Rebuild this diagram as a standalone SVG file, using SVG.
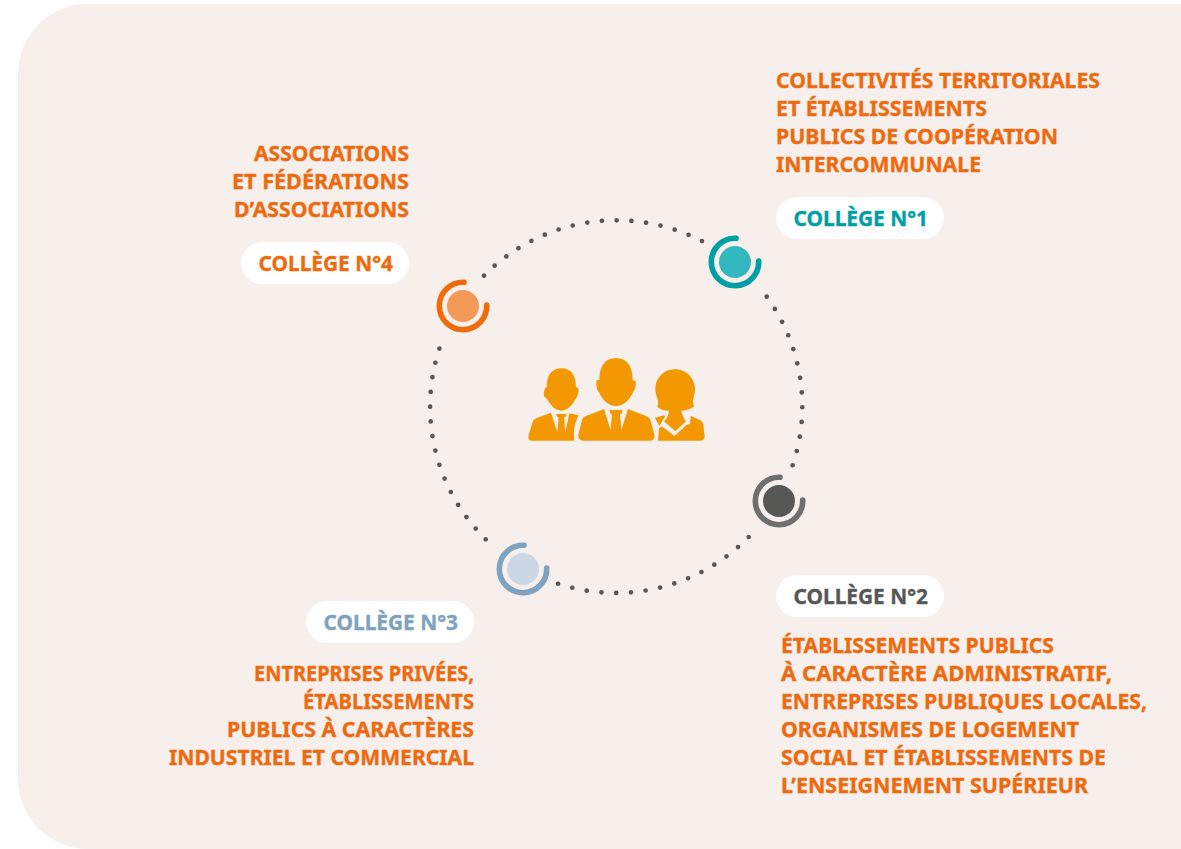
<svg xmlns="http://www.w3.org/2000/svg" width="1181" height="849" viewBox="0 0 1181 849">
<style>
.t{font-family:"Noto Sans","Liberation Sans",sans-serif;font-weight:700;font-size:21px;fill:#ee6a0e;stroke:#ee6a0e;stroke-width:.35}
.p{font-family:"Noto Sans","Liberation Sans",sans-serif;font-weight:700;font-size:21px;stroke-width:.35}
.pill{fill:#fff}
.ring{fill:none;stroke-width:5.6;stroke-linecap:round}
.dots{fill:none;stroke:#575756;stroke-width:4.700;stroke-linecap:round;stroke-dasharray:0 14.75}
.i{fill:#f39800}
</style>
<rect width="1181" height="849" fill="#fff"/>
<path id="background" d="M1181 4H88A70 70 0 0 0 18 74V779A70 70 0 0 0 88 849H1181Z" fill="#f6efec"/>
<g id="connectors">
<path class="dots" d="M766.700 296.700A186 186 0 0 1 791 470"/>
<path class="dots" d="M748.700 537A186 186 0 0 1 553 582"/>
<path class="dots" d="M485.700 539.300A186 186 0 0 1 441 344"/>
<path class="dots" d="M484 275.700A186 186 0 0 1 706.400 243.500"/>
</g>
<g id="node1"><path class="ring" d="M736 238.300A23.700 23.700 0 1 0 758.700 261" stroke="#009ea5"/><circle cx="735" cy="262" r="16" fill="#33b8c0"/></g>
<g id="node2"><path class="ring" d="M780 477.300A23.700 23.700 0 1 0 802.700 500" stroke="#706f6f"/><circle cx="779" cy="501" r="16" fill="#575756"/></g>
<g id="node3"><path class="ring" d="M524 545.300A23.700 23.700 0 1 0 546.700 568" stroke="#7ea2bf"/><circle cx="523" cy="569" r="16" fill="#cbd7e4"/></g>
<g id="node4"><path class="ring" d="M464 282.300A23.700 23.700 0 1 0 486.700 305" stroke="#f26b0a"/><circle cx="463" cy="306" r="16" fill="#f49a58"/></g>
<g id="people" class="i" transform="translate(500 340) scale(.33333)">
<path d="M184 85C212 85 228 105 228 140L236 146C236 160 232 172 226 178C216 198 200 212 184 212C168 212 152 198 142 178L133 170C130 160 132 146 140 140C140 105 156 85 184 85Z"/>
<path d="M222 302H95C87 302 83 295 86 285L98 245C100 240 104 237 110 234L153 218L172 276L176 232H172L168 222H200L196 232H192L196 276L208 220L236 226C228 240 222 260 222 276Z"/>
<path d="M348 54C382 54 398 80 398 120L407 124C408 138 406 150 398 158C388 182 368 198 348 198C328 198 308 182 298 158C290 150 288 138 290 120L298 120C298 80 314 54 348 54Z"/>
<path d="M450 302H250C238 302 232 292 236 280L246 240C248 233 252 230 260 227L312 207L332 270L336 222H332L328 210H368L364 222H360L364 270L384 207L440 229C447 232 450 236 452 242L463 284C465 294 460 302 450 302Z"/>
<path d="M525 88C558 88 585 114 585 148C585 166 574 180 582 200C572 207 556 212 544 212C546 226 552 238 558 244L526 274L492 244C500 238 506 226 507 212C494 212 480 208 472 201C480 184 466 168 466 148C466 114 492 88 525 88Z"/>
<path d="M474 302L477 264L487 260L524 288L560 254L570 252L572 228L600 240C606 243 609 248 610 254L614 290C614 298 608 302 600 302ZM465 234L490 226L496 228L478 258Z"/>
</g>
<g id="label1">
<text class="t" x="776" y="88" textLength="324" lengthAdjust="spacingAndGlyphs">COLLECTIVITÉS TERRITORIALES</text>
<text class="t" x="776" y="116" textLength="211" lengthAdjust="spacingAndGlyphs">ET ÉTABLISSEMENTS</text>
<text class="t" x="776" y="144" textLength="282" lengthAdjust="spacingAndGlyphs">PUBLICS DE COOPÉRATION</text>
<text class="t" x="776" y="172" textLength="205" lengthAdjust="spacingAndGlyphs">INTERCOMMUNALE</text>
<rect class="pill" x="776" y="197" width="168" height="42" rx="21"/>
<text class="p" x="793.500" y="225.500" textLength="134.500" lengthAdjust="spacingAndGlyphs" fill="#009ea5" stroke="#009ea5">COLLÈGE N°1</text>
</g>
<g id="label2">
<rect class="pill" x="776" y="575" width="168" height="42" rx="21"/>
<text class="p" x="793.500" y="603.500" textLength="134.500" lengthAdjust="spacingAndGlyphs" fill="#575756" stroke="#575756">COLLÈGE N°2</text>
<text class="t" x="781" y="653" textLength="273" lengthAdjust="spacingAndGlyphs">ÉTABLISSEMENTS PUBLICS</text>
<text class="t" x="781" y="681" textLength="331" lengthAdjust="spacingAndGlyphs">À CARACTÈRE ADMINISTRATIF,</text>
<text class="t" x="781" y="709" textLength="366" lengthAdjust="spacingAndGlyphs">ENTREPRISES PUBLIQUES LOCALES,</text>
<text class="t" x="781" y="737" textLength="298" lengthAdjust="spacingAndGlyphs">ORGANISMES DE LOGEMENT</text>
<text class="t" x="781" y="765" textLength="325" lengthAdjust="spacingAndGlyphs">SOCIAL ET ÉTABLISSEMENTS DE</text>
<text class="t" x="781" y="793" textLength="307" lengthAdjust="spacingAndGlyphs">L’ENSEIGNEMENT SUPÉRIEUR</text>
</g>
<g id="label3">
<rect class="pill" x="306" y="601" width="168" height="42" rx="21"/>
<text class="p" x="323.500" y="629.500" textLength="134.500" lengthAdjust="spacingAndGlyphs" fill="#7ea2bf" stroke="#7ea2bf">COLLÈGE N°3</text>
<text class="t" x="254" y="681" textLength="220" lengthAdjust="spacingAndGlyphs">ENTREPRISES PRIVÉES,</text>
<text class="t" x="303" y="709" textLength="171" lengthAdjust="spacingAndGlyphs">ÉTABLISSEMENTS</text>
<text class="t" x="227" y="737" textLength="247" lengthAdjust="spacingAndGlyphs">PUBLICS À CARACTÈRES</text>
<text class="t" x="169" y="765" textLength="305" lengthAdjust="spacingAndGlyphs">INDUSTRIEL ET COMMERCIAL</text>
</g>
<g id="label4">
<text class="t" x="254" y="161" textLength="155" lengthAdjust="spacingAndGlyphs">ASSOCIATIONS</text>
<text class="t" x="232" y="189" textLength="177" lengthAdjust="spacingAndGlyphs">ET FÉDÉRATIONS</text>
<text class="t" x="234" y="217" textLength="175" lengthAdjust="spacingAndGlyphs">D’ASSOCIATIONS</text>
<rect class="pill" x="241" y="242" width="168" height="42" rx="21"/>
<text class="p" x="258.500" y="270.500" textLength="134.500" lengthAdjust="spacingAndGlyphs" fill="#ee6a0e" stroke="#ee6a0e">COLLÈGE N°4</text>
</g>
</svg>
